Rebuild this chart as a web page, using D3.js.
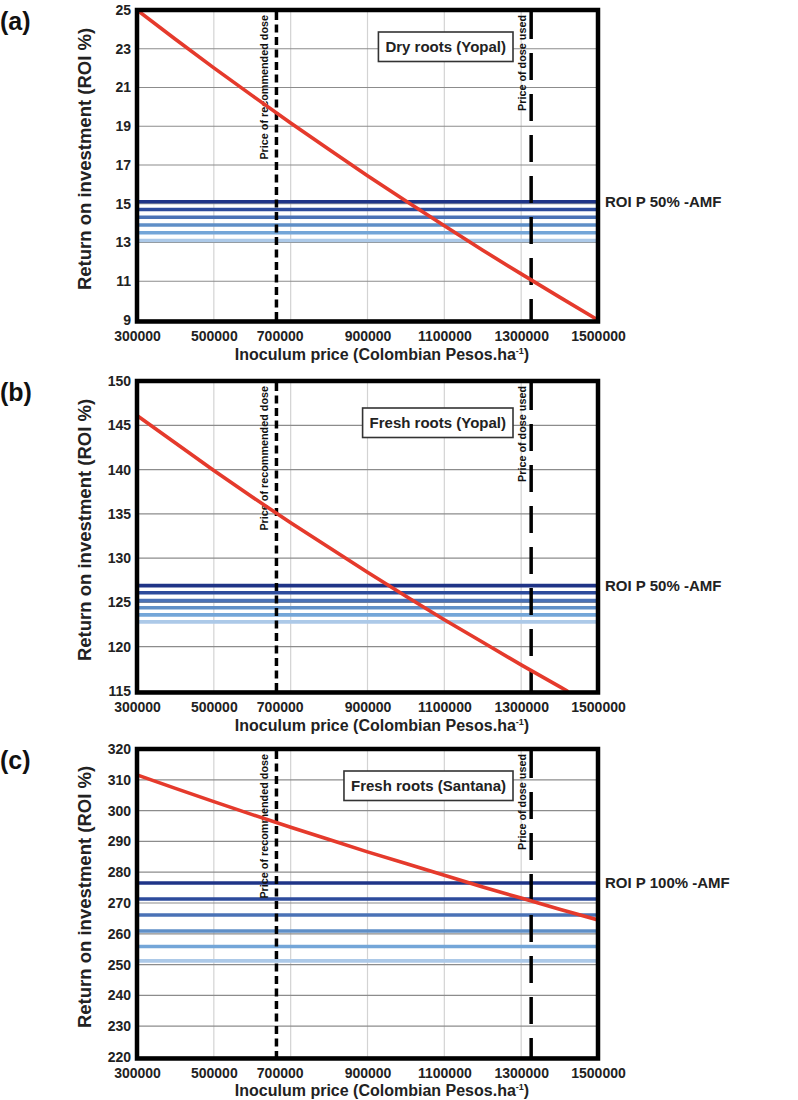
<!DOCTYPE html>
<html>
<head>
<meta charset="utf-8">
<script src="https://cdn.jsdelivr.net/npm/d3@7"></script>
<style>
  html, body { margin: 0; padding: 0; background: #fff; }
  svg { display: block; font-family: "Liberation Sans", Arial, Helvetica, sans-serif; }
</style>
</head>
<body>
<svg id="chart" width="798" height="1100"></svg>
<script>
// ---------------- data ----------------
const xTicks = [300000, 500000, 700000, 900000, 1100000, 1300000, 1500000];
const prices = [300000, 400000, 500000, 600000, 700000, 800000, 900000, 1000000, 1100000, 1200000, 1300000, 1400000, 1500000];
const pricesFreshYopal = [300000, 400000, 500000, 600000, 700000, 800000, 900000, 1000000, 1100000, 1200000, 1300000, 1400000, 1420000];

const roiDryYopal = [25.00, 23.49, 22.01, 20.58, 19.17, 17.80, 16.45, 15.14, 13.86, 12.60, 11.38, 10.18, 9.00];
const roiFreshYopal = [146.1, 143.0, 139.9, 136.9, 134.0, 131.2, 128.4, 125.7, 123.05, 120.5, 117.95, 115.5, 115.0];
const roiFreshSantana = [311.6, 307.2, 302.9, 298.7, 294.6, 290.6, 286.6, 282.8, 279.0, 275.2, 271.6, 268.0, 264.5];

const amfDryYopal = [15.1, 14.7, 14.3, 13.9, 13.5, 13.1];
const amfFreshYopal = [126.9, 126.1, 125.2, 124.4, 123.6, 122.8];
const amfFreshSantana = [276.5, 271.3, 266.1, 260.9, 255.9, 251.2];

const yTicksA = [9, 11, 13, 15, 17, 19, 21, 23, 25];
const yTicksB = [115, 120, 125, 130, 135, 140, 145, 150];
const yTicksC = [220, 230, 240, 250, 260, 270, 280, 290, 300, 310, 320];

const recommendedPrice = 663000;
const usedPrice = 1326000;

const panelLetters = ["(a)", "(b)", "(c)"];
const panelTitles = ["Dry roots (Yopal)", "Fresh roots (Yopal)", "Fresh roots (Santana)"];
const amfLabels = ["ROI P 50% -AMF", "ROI P 50% -AMF", "ROI P 100% -AMF"];

const amfColors = ["#1f3487", "#2d4b9c", "#4a72b6", "#5f8fc7", "#74a6d8", "#acc9e8"];
const redColor = "#e53a2c";

// ---------------- layout ----------------
const X0 = 137, X1 = 598;
const panels = [
  { top: 10,  h: 310, ticks: yTicksA, x: prices, roi: roiDryYopal, amf: amfDryYopal, boxTop: 22, pad: 11, titleY: 360 },
  { top: 381, h: 310, ticks: yTicksB, x: pricesFreshYopal, roi: roiFreshYopal, amf: amfFreshYopal, boxTop: 27, pad: 11, titleY: 731 },
  { top: 749, h: 308, ticks: yTicksC, x: prices, roi: roiFreshSantana, amf: amfFreshSantana, boxTop: 22, pad: 11, titleY: 1096 }
];

const svg = d3.select("#chart");
svg.append("rect").attr("width", 798).attr("height", 1100).attr("fill", "#fff");

const x = d3.scaleLinear().domain([300000, 1500000]).range([X0, X1]);

panels.forEach((p, i) => {
  const PH = p.h;
  const y0 = p.top, y1 = p.top + PH;
  const y = d3.scaleLinear().domain(d3.extent(p.ticks)).range([y1, y0]);
  const g = svg.append("g");

  const clipId = "clip" + i;
  g.append("clipPath").attr("id", clipId)
    .append("rect").attr("x", X0).attr("y", y0).attr("width", X1 - X0).attr("height", PH);

  // vertical grid
  g.append("g").selectAll("line").data(xTicks.slice(1, -1)).join("line")
    .attr("x1", d => x(d)).attr("x2", d => x(d))
    .attr("y1", y0).attr("y2", y1)
    .attr("stroke", "#d3d3d3").attr("stroke-width", 1.2);

  // horizontal grid
  g.append("g").selectAll("line").data(p.ticks).join("line")
    .attr("x1", X0).attr("x2", X1)
    .attr("y1", d => y(d)).attr("y2", d => y(d))
    .attr("stroke", "#8c8c8c").attr("stroke-width", 1.2);

  // AMF horizontal lines
  g.append("g").selectAll("line").data(p.amf).join("line")
    .attr("x1", X0).attr("x2", X1)
    .attr("y1", d => y(d)).attr("y2", d => y(d))
    .attr("stroke", (d, k) => amfColors[k]).attr("stroke-width", 3.6);

  // legend box
  const box = g.append("g");
  const boxText = box.append("text")
    .attr("font-size", 15).attr("font-weight", "bold").attr("fill", "#222")
    .text(panelTitles[i]);
  const tw = boxText.node().getComputedTextLength();
  const bx1 = 513, bw = tw + 14, bh = 29.5, by = y0 + p.boxTop;
  box.insert("rect", "text")
    .attr("x", bx1 - bw).attr("y", by).attr("width", bw).attr("height", bh)
    .attr("fill", "#fff").attr("stroke", "#333").attr("stroke-width", 1.6);
  boxText.attr("x", bx1 - bw / 2).attr("y", by + bh / 2 + 5.3).attr("text-anchor", "middle");

  // dashed lines
  g.append("line")
    .attr("x1", x(recommendedPrice)).attr("x2", x(recommendedPrice))
    .attr("y1", y0 + 2).attr("y2", y1)
    .attr("stroke", "#000").attr("stroke-width", 3.5).attr("stroke-dasharray", "8,4.5");
  g.append("line")
    .attr("x1", x(usedPrice)).attr("x2", x(usedPrice))
    .attr("y1", y0 + 2).attr("y2", y1)
    .attr("stroke", "#000").attr("stroke-width", 3.5).attr("stroke-dasharray", "27,14");

  g.append("text")
    .attr("transform", `translate(${x(recommendedPrice) - 8},${y0 + 5}) rotate(-90)`)
    .attr("text-anchor", "end").attr("font-size", 10.8).attr("font-weight", "bold").attr("fill", "#111")
    .text("Price of recommended dose");
  g.append("text")
    .attr("transform", `translate(${x(usedPrice) - 5},${y0 + 5}) rotate(-90)`)
    .attr("text-anchor", "end").attr("font-size", 10.8).attr("font-weight", "bold").attr("fill", "#111")
    .text("Price of dose used");

  // red ROI line
  const line = d3.line().x((d, k) => x(p.x[k])).y(d => y(d));
  g.append("path").datum(p.roi)
    .attr("clip-path", `url(#${clipId})`)
    .attr("d", line).attr("fill", "none")
    .attr("stroke", redColor).attr("stroke-width", 3.6).attr("stroke-linecap", "round");

  // AMF label
  g.append("text")
    .attr("x", 605).attr("y", y(p.amf[0]) + 5.3)
    .attr("font-size", 15).attr("font-weight", "bold").attr("fill", "#222")
    .text(amfLabels[i]);

  // axes
  const ya = g.append("g").attr("transform", `translate(${X0},0)`)
    .call(d3.axisLeft(y).tickValues(p.ticks).tickSize(0).tickPadding(6).tickFormat(d3.format("d")));
  ya.select(".domain").remove();
  ya.selectAll("text").attr("font-size", 14).attr("font-weight", "bold").attr("fill", "#222")
    .attr("font-family", null);

  const xa = g.append("g").attr("transform", `translate(0,${y1})`)
    .call(d3.axisBottom(x).tickValues(xTicks).tickSize(0).tickPadding(p.pad).tickFormat(d3.format("d")));
  xa.select(".domain").remove();
  xa.selectAll("text").attr("font-size", 14).attr("font-weight", "bold").attr("fill", "#222")
    .attr("font-family", null)
    .attr("dx", d => d === 700000 ? -11 : 0);

  // axis titles
  const xt = g.append("text")
    .attr("x", 382).attr("y", p.titleY).attr("text-anchor", "middle")
    .attr("font-size", 16).attr("font-weight", "bold").attr("fill", "#222");
  xt.append("tspan").text("Inoculum price (Colombian Pesos.ha");
  xt.append("tspan").attr("font-size", 9).attr("dy", -6).text("-1");
  xt.append("tspan").attr("dy", 6).text(")");

  g.append("text")
    .attr("transform", `translate(91,${(y0 + y1) / 2 - 6}) rotate(-90)`)
    .attr("text-anchor", "middle").attr("font-size", 18.5).attr("font-weight", "bold").attr("fill", "#222")
    .text("Return on investment (ROI %)");

  // panel letter
  g.append("text").attr("x", 0).attr("y", y0 + 20)
    .attr("font-size", 25).attr("font-weight", "bold").attr("fill", "#111")
    .text(panelLetters[i]);

  // frame
  g.append("rect")
    .attr("x", X0).attr("y", y0).attr("width", X1 - X0).attr("height", PH + 1.5)
    .attr("fill", "none").attr("stroke", "#000").attr("stroke-width", 4.5);
});
</script>
</body>
</html>
